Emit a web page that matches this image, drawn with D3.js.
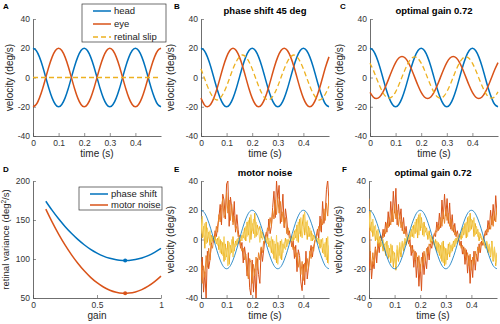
<!DOCTYPE html>
<html>
<head>
<meta charset="utf-8">
<script src="https://cdn.jsdelivr.net/npm/d3@7"></script>
<style>
body { margin: 0; background: #fff; }
svg { font-family: "Liberation Sans", Arial, sans-serif; }
</style>
</head>
<body>
<div id="chart"></div>
<script>
// sample spacing (s) of the smooth traces and of the noisy traces
var step = 0.0125,
    fineStep = 0.005

// tick labels
var timeTicks = [0, 0.1, 0.2, 0.3, 0.4]
var velTicks = [-40, -20, 0, 20, 40]
var gainTicks = [0, 0.5, 1]
var varTicks = [50, 100, 150, 200]

// A-C: head / eye / retinal slip velocity (deg/s), one value every 12.5 ms
var headVel = [20, 18.5, 14.1, 7.7, 0, -7.7, -14.1, -18.5, -20, -18.5, -14.1, -7.7, 0, 7.7, 14.1, 18.5,
    20, 18.5, 14.1, 7.7, 0, -7.7, -14.1, -18.5, -20, -18.5, -14.1, -7.7, 0, 7.7, 14.1, 18.5,
    20, 18.5, 14.1, 7.7, 0, -7.7, -14.1, -18.5, -20]
var eyeA = [-20, -18.5, -14.1, -7.7, 0, 7.7, 14.1, 18.5, 20, 18.5, 14.1, 7.7, 0, -7.7, -14.1, -18.5,
    -20, -18.5, -14.1, -7.7, 0, 7.7, 14.1, 18.5, 20, 18.5, 14.1, 7.7, 0, -7.7, -14.1, -18.5,
    -20, -18.5, -14.1, -7.7, 0, 7.7, 14.1, 18.5, 20]
var slipA = [0, 0, 0, 0, 0, 0, 0, 0, 0, 0, 0, 0, 0, 0, 0, 0, 0, 0, 0, 0, 0,
    0, 0, 0, 0, 0, 0, 0, 0, 0, 0, 0, 0, 0, 0, 0, 0, 0, 0, 0, 0]
var eyeB = [-14.1, -18.5, -20, -18.5, -14.1, -7.7, 0, 7.7, 14.1, 18.5, 20, 18.5, 14.1, 7.7, 0, -7.7,
    -14.1, -18.5, -20, -18.5, -14.1, -7.7, 0, 7.7, 14.1, 18.5, 20, 18.5, 14.1, 7.7, 0, -7.7,
    -14.1, -18.5, -20, -18.5, -14.1, -7.7, 0, 7.7, 14.1]
var slipB = [5.9, 0, -5.9, -10.8, -14.1, -15.4, -14.1, -10.8, -5.9, 0, 5.9, 10.8, 14.1, 15.4, 14.1, 10.8,
    5.9, 0, -5.9, -10.8, -14.1, -15.4, -14.1, -10.8, -5.9, 0, 5.9, 10.8, 14.1, 15.4, 14.1, 10.8,
    5.9, 0, -5.9, -10.8, -14.1, -15.4, -14.1, -10.8, -5.9]
var eyeC = [-10.2, -13.3, -14.4, -13.3, -10.2, -5.5, 0, 5.5, 10.2, 13.3, 14.4, 13.3, 10.2, 5.5, 0, -5.5,
    -10.2, -13.3, -14.4, -13.3, -10.2, -5.5, 0, 5.5, 10.2, 13.3, 14.4, 13.3, 10.2, 5.5, 0, -5.5,
    -10.2, -13.3, -14.4, -13.3, -10.2, -5.5, 0, 5.5, 10.2]
var slipC = [9.8, 5.2, -0.3, -5.6, -10.2, -13.2, -14.1, -13.0, -9.8, -5.2, 0.3, 5.6, 10.2, 13.2, 14.1, 13.0,
    9.8, 5.2, -0.3, -5.6, -10.2, -13.2, -14.1, -13.0, -9.8, -5.2, 0.3, 5.6, 10.2, 13.2, 14.1, 13.0,
    9.8, 5.2, -0.3, -5.6, -10.2, -13.2, -14.1, -13.0, -9.8]

// D: retinal variance (deg^2/s) against gain
var gains = [0.1, 0.15, 0.2, 0.25, 0.3, 0.35, 0.4, 0.45, 0.5, 0.55, 0.6, 0.65, 0.7, 0.75, 0.8, 0.85, 0.9, 0.95, 1]
var varPhase = [174.1, 162.3, 151.5, 141.7, 132.9, 125.1, 118.3, 112.4, 107.6, 103.7, 100.9, 99.0, 98.1, 98.2, 99.3, 101.3, 104.4, 108.5, 113.5]
var varMotor = [164.0, 147.3, 132.0, 118.1, 105.6, 94.5, 84.8, 76.5, 69.6, 64.1, 60.0, 57.4, 56.1, 56.3, 57.8, 60.7, 65.1, 70.9, 78.0]
var optGain = 0.72,
    optPhase = 98,
    optMotor = 56

// E: noisy traces with motor noise, one value every 5 ms
var noiseE1 = [-28, -12, -36, -22, -41, -8, -20, -14, -4, 1,
    -2, 6, 2, 9, 15, 24, 10, 31, 27, 14,
    38, 40, 9, 29, 22, 12, 26, 5, 17, 7,
    -1, -6, -2, -16, -5, -12, -25, -9, -33, -38,
    -14, -36, -20, -42, -13, -24, -30, -6, -15, -7,
    1, 5, 1, 14, 4, 9, 22, 33, 15, 40,
    28, 37, 11, 18, 31, 8, 21, 14, 3, 6,
    0, -5, -1, -13, -4, -22, -7, -11, -29, -35,
    -17, -31, -8, -27, -19, -10, -4, -12, -5, -1,
    2, 7, 1, 16, 5, 26, 11, 17, 34, 41,
    24]
var noiseE2 = [-15, -30, -18, -26, -11, -19, -6, -14, -3, -6,
    2, 1, 9, 5, 17, 12, 22, 28, 15, 17,
    32, 18, 27, 13, 24, 10, 16, 7, 9, 2,
    3, -4, -8, -6, -14, -10, -21, -27, -13, -16,
    -30, -17, -25, -12, -21, -9, -14, -5, -9, -1,
    -2, 3, 8, 6, 15, 9, 20, 14, 27, 17,
    29, 18, 26, 12, 19, 9, 15, 4, 8, 1,
    2, -3, -7, -5, -12, -9, -19, -12, -24, -15,
    -28, -16, -22, -13, -20, -8, -13, -5, -8, -1,
    1, 4, 9, 6, 14, 10, 21, 13, 25, 16,
    30]
var noiseE3 = [14, 1, 9, -6, 12, -2, 5, -4, 3, -1,
    0, 2, -3, 1, -7, 0, -10, -2, -15, -3,
    -12, -1, -17, -4, -9, 2, -8, -1, -4, 1,
    0, -1, 3, 1, 8, -1, 12, 3, 15, 0,
    11, 4, 18, 2, 10, 6, 9, 1, 5, 2,
    1, -2, 2, -5, -1, -9, 0, -13, -3, -16,
    -2, -11, -1, -14, -3, -6, 1, -5, 0, -2,
    0, 2, -1, 6, 1, 10, -2, 14, 2, 9,
    17, 3, 12, 0, 9, 2, 6, -1, 3, 1,
    0, -2, 1, -6, 0, -9, -3, -12, 1, -16,
    -4]
var noiseE4 = [4, 16, 2, 11, -3, 8, 1, 6, -2, 2,
    1, -1, 0, -4, 2, -9, -1, -11, 2, -14,
    -6, -18, -2, -10, 0, -12, -3, -5, 0, -3,
    1, 2, -1, 5, 0, 9, 2, 13, -2, 17,
    6, 14, 1, 12, 3, 7, -2, 6, 0, 3,
    -1, 0, -3, 1, -6, 2, -10, -1, -14, 3,
    -17, -4, -13, 0, -9, -2, -7, 0, -3, 1,
    1, -1, 3, 0, 7, -1, 12, 4, 15, 1,
    8, 19, 5, 13, 2, 8, -1, 4, 0, 2,
    -1, 1, -3, 0, -5, 1, -10, -2, -14, 2,
    -17]

// F: noisy traces at the optimal gain
var noiseF1 = [-22, -8, -27, -15, -20, -5, -16, -2, -9, 3,
    -1, 7, 2, 12, 5, 19, 9, 26, 12, 33,
    18, 35, 10, 24, 14, 21, 6, 15, 4, 9,
    1, -3, 0, -11, -4, -19, -8, -26, -12, -32,
    -17, -35, -9, -24, -13, -20, -5, -14, -3, -6,
    0, 4, 2, 12, 6, 18, 8, 27, 14, 31,
    16, 28, 11, 25, 7, 17, 5, 11, 2, 6,
    1, -4, -1, -10, -5, -17, -7, -23, -11, -30,
    -14, -26, -8, -21, -10, -15, -3, -9, -1, -4,
    2, 6, 3, 13, 7, 20, 10, 24, 13, 30,
    17]
var noiseF2 = [28, -12, -20, -9, -17, -6, -11, -3, -5, 0,
    2, 1, 7, 4, 11, 8, 15, 10, 20, 12,
    24, 14, 20, 9, 17, 8, 12, 4, 7, 2,
    1, -2, -5, -4, -9, -7, -14, -9, -19, -11,
    -22, -12, -18, -8, -15, -6, -10, -3, -5, -1,
    1, 3, 6, 5, 10, 7, 15, 9, 19, 11,
    21, 13, 18, 9, 14, 6, 10, 3, 5, 1,
    0, -2, -6, -4, -10, -6, -14, -9, -18, -10,
    -21, -12, -17, -8, -13, -5, -9, -2, -4, 0,
    2, 3, 7, 5, 11, 7, 16, 9, 19, 12,
    22]
var noiseF3 = [18, 6, 12, 2, 9, -1, 6, -3, 2, -5,
    -2, -8, -3, -11, -1, -13, -6, -16, -4, -19,
    -9, -21, -7, -15, -5, -12, -2, -8, 0, -4,
    1, 3, 0, 7, 2, 10, 4, 14, 1, 17,
    6, 15, 3, 12, 5, 8, 0, 6, -2, 2,
    -1, -4, 0, -8, -2, -11, -4, -15, -1, -18,
    -6, -14, -3, -12, -4, -8, -1, -5, 1, -2,
    2, 4, 0, 8, 3, 11, 1, 15, 5, 18,
    7, 13, 2, 11, 4, 7, -1, 4, 0, -1,
    -3, -6, -2, -9, -4, -12, -1, -15, -6, -18,
    -9]
var noiseF4 = [8, 20, 5, 14, 3, 10, 0, 7, -2, 1,
    -4, 0, -6, -2, -9, -4, -12, -3, -15, -8,
    -13, -18, -4, -11, -2, -9, -1, -5, 1, -1,
    3, 0, 5, 2, 9, 1, 12, 5, 15, 3,
    18, 8, 11, 2, 9, 3, 5, 1, 3, -1,
    0, -2, -6, -1, -9, -3, -13, -2, -16, -5,
    -17, -7, -10, -2, -9, -3, -6, 0, -3, 1,
    1, 2, 5, 1, 9, 4, 12, 2, 16, 6,
    14, 9, 15, 3, 9, 2, 5, 1, 2, -2,
    0, -4, -1, -7, -3, -11, -2, -14, -5, -16,
    -11]

var blue = '#0072bd',
    red = '#d95319',
    yellow = '#edb120',
    noiseColors = ['#d95319', '#e8822a', '#edb120', '#f4cf5a'],
    axisColor = '#4a4a4a'

var svg = d3.select('#chart').append('svg')
    .attr('width', 500)
    .attr('height', 324)

// one set of axes, MATLAB style: box off, ticks inside
function addAxes(left, right, top, bottom, xDomain, yDomain, xTicks, yTicks) {
    var x = d3.scaleLinear().domain(xDomain).range([left, right])
    var y = d3.scaleLinear().domain(yDomain).range([bottom, top])

    var g = svg.append('g')

    g.append('g')
        .attr('transform', `translate(0, ${bottom})`)
        .call(d3.axisBottom(x).tickValues(xTicks).tickFormat(d => String(d))
            .tickSizeInner(-3).tickSizeOuter(0).tickPadding(4))
    g.append('g')
        .attr('transform', `translate(${left}, 0)`)
        .call(d3.axisLeft(y).tickValues(yTicks).tickFormat(d => String(d))
            .tickSizeInner(-3).tickSizeOuter(0).tickPadding(3))

    g.selectAll('.domain').attr('stroke', axisColor).attr('stroke-width', 0.8)
    g.selectAll('.tick line').attr('stroke', axisColor).attr('stroke-width', 0.6)
    g.selectAll('.tick text')
        .attr('fill', '#333')
        .style('font-size', '8.5px')
        .style('font-family', '"Liberation Sans", Arial, sans-serif')

    return { x: x, y: y, g: g }
}

function labels(ax, letter, lx, ly, title, xlabel, ylabel, ylabelOff) {
    var r = ax.x.range(),
        d = ax.y.range()
    svg.append('text')
        .attr('x', lx).attr('y', ly)
        .style('font-size', '8px').style('font-weight', 'bold')
        .text(letter)
    if (title) {
        svg.append('text')
            .attr('x', (r[0] + r[1]) / 2).attr('y', d[1] - 5)
            .attr('text-anchor', 'middle')
            .style('font-size', '9.5px').style('font-weight', 'bold')
            .text(title)
    }
    svg.append('text')
        .attr('x', (r[0] + r[1]) / 2).attr('y', d[0] + 21)
        .attr('text-anchor', 'middle')
        .attr('fill', '#262626')
        .style('font-size', '10px')
        .text(xlabel)
    var yl = svg.append('text')
        .attr('transform', `translate(${r[0] - ylabelOff}, ${(d[0] + d[1]) / 2}) rotate(-90)`)
        .attr('text-anchor', 'middle')
        .attr('fill', '#262626')
        .style('font-size', '10px')
    if (Array.isArray(ylabel)) {
        yl.style('font-size', '9.5px')
        yl.append('tspan').text(ylabel[0])
        yl.append('tspan').attr('dy', -3).style('font-size', '6.5px').text(ylabel[1])
        yl.append('tspan').attr('dy', 3).text(ylabel[2])
    } else {
        yl.text(ylabel)
    }
}

function smoothLine(ax, values, color, width, dash) {
    var line = d3.line()
        .x((d, i) => ax.x(i * step))
        .y(d => ax.y(d))
        .curve(d3.curveNatural)
    var p = ax.g.append('path')
        .datum(values)
        .attr('d', line)
        .attr('fill', 'none')
        .attr('stroke', color)
        .attr('stroke-width', width)
    if (dash) p.attr('stroke-dasharray', dash)
    return p
}

function noisyLine(ax, values, color, clipId) {
    var line = d3.line()
        .x((d, i) => ax.x(i * fineStep))
        .y(d => ax.y(d))
    ax.g.append('path')
        .datum(values)
        .attr('d', line)
        .attr('clip-path', `url(#${clipId})`)
        .attr('fill', 'none')
        .attr('stroke', color)
        .attr('stroke-width', 1)
        .attr('stroke-linejoin', 'round')
}

function addClip(ax, id) {
    var r = ax.x.range(),
        d = ax.y.range()
    svg.append('clipPath').attr('id', id)
        .append('rect')
        .attr('x', r[0]).attr('y', d[1])
        .attr('width', r[1] - r[0]).attr('height', d[0] - d[1])
}

function legend(x0, y0, w, h, items, fontSize) {
    var lg = svg.append('g')
    lg.append('rect')
        .attr('x', x0).attr('y', y0).attr('width', w).attr('height', h)
        .attr('fill', '#fff').attr('stroke', '#333').attr('stroke-width', 0.7)
    items.forEach(function (it, i) {
        var yy = y0 + 7 + i * (h - 12) / Math.max(items.length - 1, 1)
        lg.append('line')
            .attr('x1', x0 + 11).attr('x2', x0 + 29)
            .attr('y1', yy).attr('y2', yy)
            .attr('stroke', it.color).attr('stroke-width', 1.5)
            .attr('stroke-dasharray', it.dash || null)
        lg.append('text')
            .attr('x', x0 + 32).attr('y', yy + 3.3)
            .attr('fill', '#222')
            .style('font-size', fontSize)
            .text(it.label)
    })
}

var topY = [19, 136],
    botY = [181, 298]

// ---- A ----
var axA = addAxes(33, 161, topY[0], topY[1], [0, 0.5], [-40, 40], timeTicks, velTicks)
smoothLine(axA, headVel, blue, 1.5)
smoothLine(axA, eyeA, red, 1.5)
smoothLine(axA, slipA, yellow, 1.3, '5,3')
labels(axA, 'A', 3, 9, null, 'time (s)', 'velocity (deg/s)', 20)
legend(82, 4, 84, 38, [
    { label: 'head', color: blue },
    { label: 'eye', color: red },
    { label: 'retinal slip', color: yellow, dash: '5,3' }
], '9.5px')

// ---- B ----
var axB = addAxes(201, 329, topY[0], topY[1], [0, 0.5], [-40, 40], timeTicks, velTicks)
smoothLine(axB, headVel, blue, 1.5)
smoothLine(axB, eyeB, red, 1.5)
smoothLine(axB, slipB, yellow, 1.3, '5,3')
labels(axB, 'B', 174, 9, 'phase shift 45 deg', 'time (s)', 'velocity (deg/s)', 27)

// ---- C ----
var axC = addAxes(370, 498, topY[0], topY[1], [0, 0.5], [-40, 40], timeTicks, velTicks)
smoothLine(axC, headVel, blue, 1.5)
smoothLine(axC, eyeC, red, 1.5)
smoothLine(axC, slipC, yellow, 1.3, '5,3')
labels(axC, 'C', 340, 9, 'optimal gain 0.72', 'time (s)', 'velocity (deg/s)', 27)

// ---- D ----
var axD = addAxes(33, 161, botY[0], botY[1], [0, 1], [50, 200], gainTicks, varTicks)
var gainLine = d3.line()
    .x((d, i) => axD.x(gains[i]))
    .y(d => axD.y(d))
    .curve(d3.curveNatural)
axD.g.append('path').datum(varPhase).attr('d', gainLine)
    .attr('fill', 'none').attr('stroke', blue).attr('stroke-width', 1.5)
axD.g.append('path').datum(varMotor).attr('d', gainLine)
    .attr('fill', 'none').attr('stroke', red).attr('stroke-width', 1.5)
axD.g.append('circle').attr('cx', axD.x(optGain)).attr('cy', axD.y(optPhase)).attr('r', 2).attr('fill', blue)
axD.g.append('circle').attr('cx', axD.x(optGain)).attr('cy', axD.y(optMotor)).attr('r', 2).attr('fill', red)
labels(axD, 'D', 3, 172, null, 'gain', ['retinal variance (deg', '2', '/s)'], 24)
legend(79, 187, 83, 23, [
    { label: 'phase shift', color: blue },
    { label: 'motor noise', color: red }
], '9.5px')

// ---- E ----
var axE = addAxes(201, 329, botY[0], botY[1], [0, 0.5], [-40, 40], timeTicks, velTicks)
addClip(axE, 'clipE')
;[noiseE1, noiseE2, noiseE3, noiseE4].forEach(function (s, i) {
    noisyLine(axE, s, noiseColors[i], 'clipE')
})
smoothLine(axE, headVel, blue, 0.8)
labels(axE, 'E', 174, 172, 'motor noise', 'time (s)', 'velocity (deg/s)', 27)

// ---- F ----
var axF = addAxes(369, 497, botY[0], botY[1], [0, 0.5], [-40, 40], timeTicks, velTicks)
addClip(axF, 'clipF')
;[noiseF1, noiseF2, noiseF3, noiseF4].forEach(function (s, i) {
    noisyLine(axF, s, noiseColors[i], 'clipF')
})
smoothLine(axF, headVel, blue, 0.8)
labels(axF, 'F', 342, 172, 'optimal gain 0.72', 'time (s)', 'velocity (deg/s)', 27)
</script>
</body>
</html>
